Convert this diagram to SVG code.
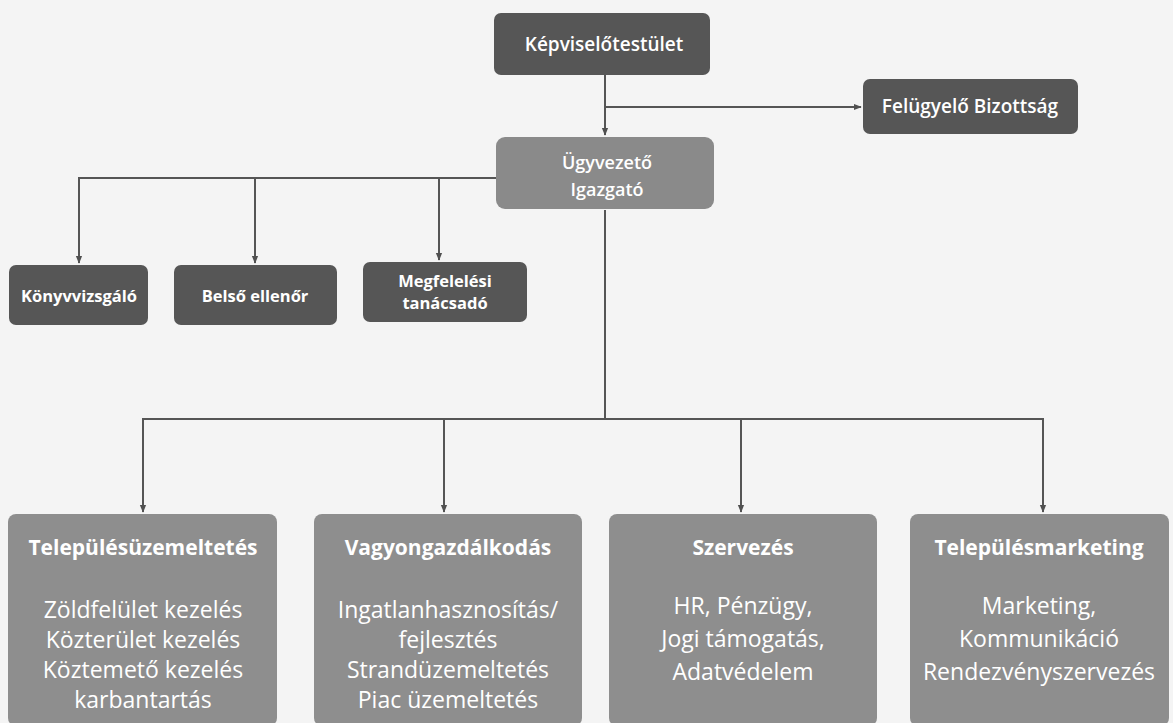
<svg xmlns="http://www.w3.org/2000/svg" width="1173" height="723" viewBox="0 0 1173 723">
<defs>
<marker id="arr" viewBox="0 0 10 10" refX="9" refY="5" markerWidth="8" markerHeight="8" markerUnits="userSpaceOnUse" orient="auto">
<path d="M0 1 L10 5 L0 9 z" fill="#505050"/>
</marker>
<style>
.dark{fill:#565656}
.mid{fill:#8a8a8a}
.light{fill:#8e8e8e}
.ln{fill:none;stroke:#555;stroke-width:2}
text{font-family:"Open Sans","Noto Sans",sans-serif;fill:#ffffff;text-anchor:middle}
.t0{font-size:19px;font-weight:600}
.t1{font-size:18px;font-weight:600}
.t2{font-size:16.5px;font-weight:700}
.t3{font-size:21px;font-weight:700}
.b{font-size:23px;font-weight:400}
</style>
</defs>
<rect width="1173" height="723" fill="#f4f4f4"/>
<g id="connectors">
<path class="ln" d="M605 75 V135" marker-end="url(#arr)"/>
<path class="ln" d="M605 107 H861" marker-end="url(#arr)"/>
<path class="ln" d="M496 178 H79 V263" marker-end="url(#arr)"/>
<path class="ln" d="M255 178 V263" marker-end="url(#arr)"/>
<path class="ln" d="M439 178 V260" marker-end="url(#arr)"/>
<path class="ln" d="M605 210 V419"/>
<path class="ln" d="M605 419 H143 V512" marker-end="url(#arr)"/>
<path class="ln" d="M444 419 V512" marker-end="url(#arr)"/>
<path class="ln" d="M741 419 V512" marker-end="url(#arr)"/>
<path class="ln" d="M605 419 H1043 V512" marker-end="url(#arr)"/>
</g>
<g id="kepviselotestulet">
<rect class="dark" x="494" y="13" width="216" height="62" rx="7"/>
<text class="t0" x="604" y="51">Képviselőtestület</text>
</g>
<g id="felugyelo">
<rect class="dark" x="863" y="79" width="215" height="55" rx="7"/>
<text class="t0" x="970" y="113">Felügyelő Bizottság</text>
</g>
<g id="ugyvezeto">
<rect class="mid" x="496" y="137" width="218" height="72" rx="9"/>
<text class="t1" x="607" y="169">Ügyvezető</text>
<text class="t1" x="607" y="196">Igazgató</text>
</g>
<g id="konyvvizsgalo">
<rect class="dark" x="9" y="265" width="139" height="60" rx="7"/>
<text class="t2" x="79" y="302">Könyvvizsgáló</text>
</g>
<g id="belso">
<rect class="dark" x="174" y="265" width="163" height="60" rx="7"/>
<text class="t2" x="255" y="302">Belső ellenőr</text>
</g>
<g id="megfelelesi">
<rect class="dark" x="363" y="262" width="164" height="60" rx="7"/>
<text class="t2" x="445" y="287">Megfelelési</text>
<text class="t2" x="445" y="309">tanácsadó</text>
</g>
<g id="telepulesuzemeltetes">
<rect class="light" x="8" y="514" width="269" height="212" rx="8"/>
<text class="t3" x="143" y="555">Településüzemeltetés</text>
<text class="b" x="143" y="618">Zöldfelület kezelés</text>
<text class="b" x="143" y="648">Közterület kezelés</text>
<text class="b" x="143" y="678">Köztemető kezelés</text>
<text class="b" x="143" y="708">karbantartás</text>
</g>
<g id="vagyongazdalkodas">
<rect class="light" x="314" y="514" width="268" height="212" rx="8"/>
<text class="t3" x="448" y="555">Vagyongazdálkodás</text>
<text class="b" x="448" y="618">Ingatlanhasznosítás/</text>
<text class="b" x="448" y="648">fejlesztés</text>
<text class="b" x="448" y="678">Strandüzemeltetés</text>
<text class="b" x="448" y="708">Piac üzemeltetés</text>
</g>
<g id="szervezes">
<rect class="light" x="609" y="514" width="268" height="212" rx="8"/>
<text class="t3" x="743" y="555">Szervezés</text>
<text class="b" x="743" y="614">HR, Pénzügy,</text>
<text class="b" x="743" y="647">Jogi támogatás,</text>
<text class="b" x="743" y="680">Adatvédelem</text>
</g>
<g id="telepulesmarketing">
<rect class="light" x="910" y="514" width="259" height="212" rx="8"/>
<text class="t3" x="1039" y="555">Településmarketing</text>
<text class="b" x="1039" y="614">Marketing,</text>
<text class="b" x="1039" y="647">Kommunikáció</text>
<text class="b" x="1039" y="680">Rendezvényszervezés</text>
</g>
</svg>
